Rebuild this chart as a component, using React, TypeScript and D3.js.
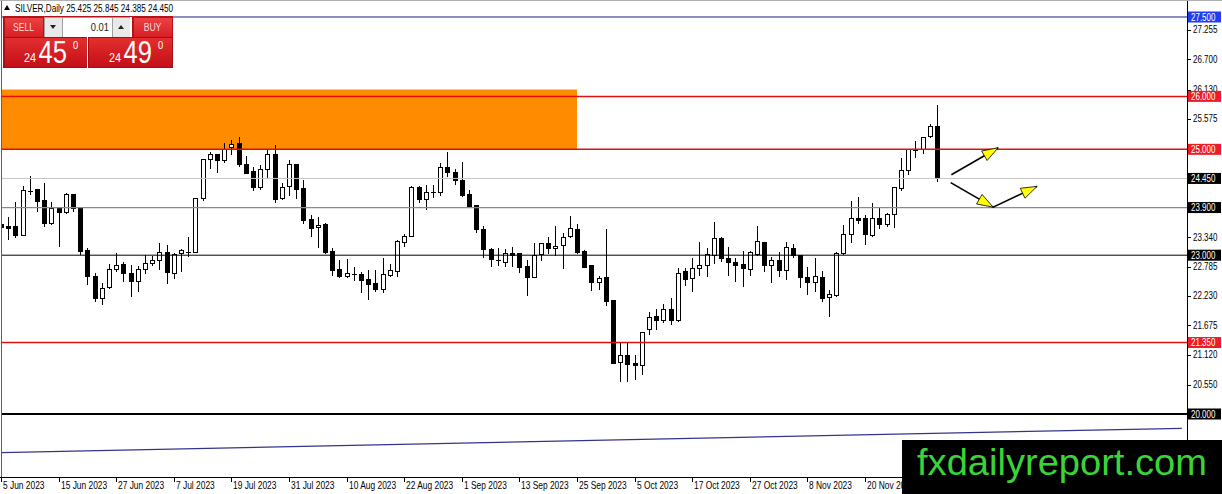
import React from 'react';
import * as d3 from 'd3';

const symbolName = 'SILVER,Daily';
const headerOHLC = ['25.425', '25.845', '24.385', '24.450'];
const lotSize = '0.01';
const sellQuote = ['24', '45', '0'];
const buyQuote = ['24', '49', '0'];

const opens = [23.586,23.535,23.542,23.365,24.21,24.235,24.027,23.605,23.876,23.813,24.14,23.901,23.088,22.596,22.187,22.395,22.735,22.817,22.647,22.502,22.722,22.849,22.899,23.056,22.659,23.025,23.06,23.056,24.065,24.802,24.909,24.789,25.034,25.117,24.72,24.581,24.285,24.625,24.896,24.077,24.298,24.707,24.254,23.668,23.529,23.586,23.069,22.722,22.596,22.64,22.628,22.546,22.458,22.357,22.609,22.691,23.245,23.353,24.279,24.058,24.184,24.191,24.663,24.562,24.405,24.14,23.932,23.49,23.112,22.9,22.86,23.037,23.024,22.785,22.583,23.005,23.213,23.131,23.182,23.352,23.49,23.068,22.797,22.482,22.583,22.142,20.97,21.096,20.945,20.907,21.6,21.84,21.764,21.978,21.764,22.69,22.552,22.753,22.804,22.993,23.32,22.93,22.867,22.816,22.734,23.005,23.245,22.797,22.898,22.703,23.119,22.986,22.583,22.482,22.583,22.205,22.236,23.024,23.383,23.699,23.686,23.371,23.699,23.573,23.762,24.266,24.593,25.003,24.99,25.242,25.425];
const highs = [23.699,23.718,24.014,24.298,24.487,24.24,24.361,24.014,23.88,24.172,24.145,23.905,23.132,22.659,22.47,22.83,23.038,22.88,22.817,22.798,23.006,22.987,23.227,23.195,23.05,23.113,23.34,24.077,24.814,24.959,24.915,25.117,25.167,25.23,24.865,24.663,24.707,24.978,25.085,24.373,24.802,24.72,24.424,23.762,23.731,23.617,23.132,22.912,22.924,22.786,22.691,22.722,22.722,22.943,22.83,23.29,23.403,24.298,24.298,24.329,24.329,24.751,24.959,24.625,24.77,24.235,23.95,23.554,23.144,23.131,23.112,23.163,23.037,22.911,23.226,23.226,23.352,23.554,23.427,23.743,23.591,23.1,22.816,22.608,23.49,22.155,21.335,21.335,21.115,21.556,21.934,21.978,22.079,22.186,22.753,22.753,22.942,23.257,23.131,23.635,23.339,23.15,22.942,23.087,23.087,23.554,23.257,22.961,23.068,23.257,23.207,23.005,22.785,22.942,22.709,22.344,23.068,23.572,24.02,24.108,23.762,23.982,23.888,23.793,24.297,24.833,24.99,25.148,25.242,25.475,25.845];
const lows = [23.195,23.29,23.321,23.355,24.14,23.825,23.542,23.573,23.164,23.781,23.825,23.006,22.439,22.124,22.061,22.357,22.691,22.502,22.218,22.313,22.647,22.798,22.722,22.458,22.546,22.691,22.975,23.037,24.027,24.625,24.55,24.739,24.896,24.663,24.531,24.222,24.235,24.455,23.983,24.046,24.121,24.058,23.586,23.34,23.132,23.025,22.609,22.565,22.565,22.521,22.294,22.155,22.313,22.281,22.596,22.596,23.151,23.34,23.995,23.857,24.077,24.121,24.474,24.329,24.096,23.907,23.427,22.942,22.772,22.797,22.772,22.772,22.671,22.23,22.564,22.898,23.024,22.986,22.734,23.32,23.024,22.753,22.331,22.344,22.041,20.945,20.611,20.611,20.642,20.737,21.493,21.588,21.726,21.682,21.745,22.419,22.312,22.608,22.583,22.835,22.879,22.608,22.501,22.394,22.608,22.986,22.69,22.482,22.596,22.533,22.942,22.375,22.249,22.312,22.123,21.827,22.218,23.005,23.226,23.585,23.194,23.352,23.497,23.541,23.522,24.215,24.518,24.833,24.908,25.223,24.385];
const closes = [23.529,23.504,23.365,24.216,24.2,24.014,23.605,23.876,23.813,24.14,23.876,23.069,22.596,22.187,22.376,22.735,22.798,22.647,22.502,22.735,22.849,22.899,23.056,22.672,23.019,23.088,23.056,24.065,24.802,24.896,24.789,24.991,25.098,24.707,24.55,24.285,24.625,24.896,24.058,24.279,24.707,24.247,23.655,23.498,23.561,23.056,22.704,22.596,22.647,22.615,22.521,22.439,22.344,22.628,22.704,23.258,23.353,24.279,24.058,24.184,24.19,24.663,24.562,24.411,24.121,23.92,23.49,23.112,22.911,22.892,23.037,22.986,22.772,22.583,22.986,23.213,23.131,23.163,23.339,23.509,23.049,22.772,22.482,22.564,22.123,20.957,21.096,20.939,20.913,21.537,21.827,21.764,21.978,21.764,22.659,22.545,22.753,22.797,23.005,23.32,22.93,22.86,22.804,22.741,23.056,23.257,22.804,22.898,22.703,23.15,22.986,22.583,22.482,22.596,22.186,22.249,23.037,23.396,23.698,23.661,23.383,23.699,23.585,23.762,24.285,24.593,24.99,24.971,25.223,25.431,24.45];

const dateLabels = ['5 Jun 2023','15 Jun 2023','27 Jun 2023','7 Jul 2023','19 Jul 2023','31 Jul 2023','10 Aug 2023','22 Aug 2023','1 Sep 2023','13 Sep 2023','25 Sep 2023','5 Oct 2023','17 Oct 2023','27 Oct 2023','8 Nov 2023','20 Nov 2023'];
const barsPerDateLabel = 8;
const priceTicks = [27.255, 26.700, 26.130, 25.575, 23.340, 22.785, 22.230, 21.675, 21.120, 20.550];
const levelPrices = [27.5, 26.0, 25.0, 24.45, 23.9, 23.0, 21.35, 20.0];
const zoneTop = 26.13;
const zoneBottom = 25.0;
const zoneEndBar = 80;
const trendBars = [0, 164];
const trendPrices = [19.27, 19.73];
const arrowUpBars = [132.0, 138.5];
const arrowUpPrices = [24.52, 25.03];
const arrowDownBars = [131.9, 137.8, 143.9];
const arrowDownPrices = [24.37, 23.907, 24.30];
const watermark = 'fxdailyreport.com';

const FONT = '"Liberation Sans", Arial, sans-serif';
const SX = 0.8;

function SqText(props: { x: number; y: number; size: number; fill: string; children: React.ReactNode; anchor?: string; sx?: number; weight?: string }) {
  const s = props.sx ?? SX;
  return (
    <g transform={`translate(${props.x},${props.y}) scale(${s},1)`}>
      <text x={0} y={0} fontSize={props.size} fill={props.fill} fontFamily={FONT} textAnchor={props.anchor || 'start'} fontWeight={props.weight || 'normal'}>
        {props.children}
      </text>
    </g>
  );
}

function arrowHead(x1: number, y1: number, x2: number, y2: number, len = 16, hw = 5.5) {
  const dx = x2 - x1, dy = y2 - y1;
  const d = Math.hypot(dx, dy);
  const ux = dx / d, uy = dy / d;
  const bx = x2 - ux * len, by = y2 - uy * len;
  const px = -uy * hw, py = ux * hw;
  return `${x2},${y2} ${bx + px},${by + py} ${bx - px},${by - py}`;
}

export default function App() {
  const W = 1222, H = 494;
  const plotRight = 1187, plotBottom = 477;
  const x = d3.scaleLinear().domain([0, 1]).range([1, 8.2]);
  const y = d3.scaleLinear().domain([20, 27.5]).range([414, 17]);

  const levelStyles = [
    { stroke: '#1c1c86', width: 1, bg: '#1f3cf0' },
    { stroke: '#e01010', width: 1.5, bg: '#ee1c24' },
    { stroke: '#e01010', width: 1.5, bg: '#ee1c24' },
    { stroke: '#c4c4c4', width: 1, bg: '#000000' },
    { stroke: '#8a8a8a', width: 1.3, bg: '#000000' },
    { stroke: '#000000', width: 1, bg: '#000000' },
    { stroke: '#e01010', width: 1.5, bg: '#ee1c24' },
    { stroke: '#000000', width: 2, bg: '#000000' },
  ];

  const trendLine = d3.line<number>().x((b) => x(b)).y((_, i) => y(trendPrices[i]));
  const bars = d3.range(opens.length);

  const upPts = arrowUpBars.map((b, i) => [x(b), y(arrowUpPrices[i])]);
  const dnPts = arrowDownBars.map((b, i) => [x(b), y(arrowDownPrices[i])]);

  return (
    <svg width={W} height={H} style={{ position: 'absolute', left: 0, top: 0, background: '#fff' }}>
      <defs>
        <linearGradient id="quoteGrad" x1="0" y1="0" x2="0" y2="1">
          <stop offset="0" stopColor="#e4302f" />
          <stop offset="1" stopColor="#c30f17" />
        </linearGradient>
        <linearGradient id="btnGrad" x1="0" y1="0" x2="0" y2="1">
          <stop offset="0" stopColor="#ec4444" />
          <stop offset="1" stopColor="#d81f26" />
        </linearGradient>
        <clipPath id="plotClip">
          <rect x={1} y={0} width={plotRight - 1} height={plotBottom} />
        </clipPath>
      </defs>
      <rect x={0} y={0} width={W} height={H} fill="#ffffff" />

      <g clipPath="url(#plotClip)">
        <rect x={0} y={y(zoneTop)} width={x(zoneEndBar)} height={y(zoneBottom) - y(zoneTop)} fill="#ff8c00" />
        <path d={trendLine(trendBars) || ''} fill="none" stroke="#34348a" strokeWidth={1.2} />

        {bars.map((i) => {
          const cx = Math.round(x(i));
          const o = opens[i], c = closes[i];
          const bull = c >= o;
          const top = Math.min(y(o), y(c));
          const bot = Math.max(y(o), y(c));
          const h = bot - top;
          return (
            <g key={i} shapeRendering="crispEdges">
              <line x1={cx + 0.5} x2={cx + 0.5} y1={y(highs[i])} y2={y(lows[i])} stroke="#000" strokeWidth={1} />
              {h < 1.5 ? (
                <line x1={cx - 2} x2={cx + 3} y1={top + 0.5} y2={top + 0.5} stroke="#000" strokeWidth={1} />
              ) : (
                <rect x={cx - 1.5} y={top} width={4} height={h} fill={bull ? '#fff' : '#000'} stroke="#000" strokeWidth={1} />
              )}
            </g>
          );
        })}

        {levelPrices.map((p, k) => (
          <line key={k} x1={0} x2={plotRight} y1={y(p)} y2={y(p)} stroke={levelStyles[k].stroke} strokeWidth={levelStyles[k].width} />
        ))}

        <line x1={upPts[0][0]} y1={upPts[0][1]} x2={upPts[1][0]} y2={upPts[1][1]} stroke="#000" strokeWidth={1.6} />
        <polygon points={arrowHead(upPts[0][0], upPts[0][1], upPts[1][0], upPts[1][1])} fill="#ffff00" stroke="#000" strokeWidth={0.8} />
        <polyline points={dnPts.map((p) => p.join(',')).join(' ')} fill="none" stroke="#000" strokeWidth={1.6} />
        <polygon points={arrowHead(dnPts[0][0], dnPts[0][1], dnPts[1][0], dnPts[1][1])} fill="#ffff00" stroke="#000" strokeWidth={0.8} />
        <polygon points={arrowHead(dnPts[1][0], dnPts[1][1], dnPts[2][0], dnPts[2][1])} fill="#ffff00" stroke="#000" strokeWidth={0.8} />
      </g>

      <line x1={1.5} x2={1.5} y1={0} y2={plotBottom} stroke="#606060" strokeWidth={1} />
      <line x1={plotRight + 0.5} x2={plotRight + 0.5} y1={0} y2={H} stroke="#000" strokeWidth={1} />
      <line x1={0} x2={plotRight} y1={plotBottom + 0.5} y2={plotBottom + 0.5} stroke="#000" strokeWidth={1} />
      <line x1={0} x2={W} y1={0.5} y2={0.5} stroke="#b0b0b0" strokeWidth={1} />

      {priceTicks.map((p) => (
        <g key={p}>
          <line x1={plotRight} x2={plotRight + 4} y1={Math.round(y(p)) + 0.5} y2={Math.round(y(p)) + 0.5} stroke="#000" />
          <SqText x={plotRight + 6} y={y(p) + 3.5} size={10} fill="#000">{p.toFixed(3)}</SqText>
        </g>
      ))}
      {levelPrices.map((p, k) => (
        <g key={'lab' + k}>
          <rect x={plotRight + 1} y={y(p) - 5.5} width={W - plotRight - 2} height={11} fill={levelStyles[k].bg} />
          <SqText x={plotRight + 4} y={y(p) + 3.8} size={10} fill="#ffffff">{p.toFixed(3)}</SqText>
        </g>
      ))}

      {dateLabels.map((lab, k) => {
        const tx = Math.round(x(k * barsPerDateLabel));
        return (
          <g key={lab}>
            <line x1={tx + 0.5} x2={tx + 0.5} y1={plotBottom} y2={plotBottom + 5} stroke="#000" />
            <SqText x={tx + 2} y={plotBottom + 12} size={10.5} fill="#000">{lab}</SqText>
          </g>
        );
      })}

      <polygon points="4,10 7,5 10,10" fill="#000" />
      <SqText x={15} y={12} size={10.5} fill="#000" sx={0.78}>{symbolName + '  ' + headerOHLC.join(' ')}</SqText>

      <g shapeRendering="crispEdges">
        <rect x={3} y={16} width={170} height={52} fill="#b3121a" />
        <rect x={4} y={17} width={39} height={20} fill="url(#btnGrad)" stroke="#b41118" />
        <rect x={44} y={17} width={18} height={20} fill="#e9e9e9" stroke="#a0a0a0" />
        <rect x={62} y={17} width={50} height={20} fill="#ffffff" stroke="#a0a0a0" />
        <rect x={112} y={17} width={18} height={20} fill="#e9e9e9" stroke="#a0a0a0" />
        <rect x={130} y={17} width={2} height={20} fill="#ffffff" />
        <rect x={133} y={17} width={39} height={20} fill="url(#btnGrad)" stroke="#b41118" />
        <rect x={4} y={37} width={83} height={30} fill="url(#quoteGrad)" stroke="#a10e14" />
        <rect x={88} y={37} width={84} height={30} fill="url(#quoteGrad)" stroke="#a10e14" />
        <rect x={87} y={37} width={1} height={31} fill="#ffffff" />
      </g>
      <polygon points="50,25 56,25 53,29" fill="#222" />
      <polygon points="118,29 124,29 121,25" fill="#222" />
      <SqText x={23.5} y={31} size={11.5} fill="#ffd8d8" anchor="middle" sx={0.75}>SELL</SqText>
      <SqText x={152.5} y={31} size={11.5} fill="#ffd8d8" anchor="middle" sx={0.75}>BUY</SqText>
      <SqText x={109} y={31} size={11} fill="#222" anchor="end" sx={0.85}>{lotSize}</SqText>

      <SqText x={24} y={62} size={12} fill="#ffffff" sx={0.9}>{sellQuote[0]}</SqText>
      <SqText x={38.5} y={63} size={32} fill="#ffffff" sx={0.8}>{sellQuote[1]}</SqText>
      <SqText x={73} y={48.5} size={11} fill="#ffffff" sx={0.85}>{sellQuote[2]}</SqText>
      <SqText x={109} y={62} size={12} fill="#ffffff" sx={0.9}>{buyQuote[0]}</SqText>
      <SqText x={123.5} y={63} size={32} fill="#ffffff" sx={0.8}>{buyQuote[1]}</SqText>
      <SqText x={158} y={48.5} size={11} fill="#ffffff" sx={0.85}>{buyQuote[2]}</SqText>

      <rect x={902} y={440} width={W - 902} height={H - 440} fill="#000000" />
      <text x={917} y={475} fontSize={37} fill="#3ad43a" fontFamily={FONT} textLength={290} lengthAdjust="spacingAndGlyphs">{watermark}</text>
    </svg>
  );
}
